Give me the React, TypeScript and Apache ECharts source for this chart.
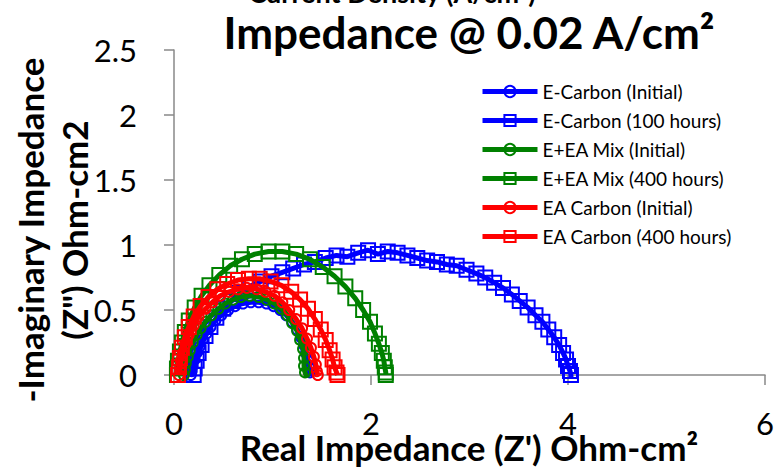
import React, { useEffect, useRef } from "react";
import * as echarts from "echarts";

const seriesNames = [
  "E-Carbon (Initial)",
  "E-Carbon (100 hours)",
  "E+EA Mix (Initial)",
  "E+EA Mix (400 hours)",
  "EA Carbon (Initial)",
  "EA Carbon (400 hours)",
];

const eCarbonInitial = [
  [0.17, 0.0], [0.18, 0.03], [0.19, 0.07], [0.21, 0.12], [0.23, 0.17], [0.26, 0.22], [0.29, 0.27],
  [0.33, 0.32], [0.37, 0.37], [0.42, 0.42], [0.48, 0.46], [0.55, 0.5], [0.62, 0.53], [0.7, 0.55],
  [0.78, 0.56], [0.86, 0.56], [0.94, 0.55], [1.01, 0.53], [1.08, 0.5], [1.14, 0.46], [1.2, 0.41],
  [1.25, 0.35], [1.29, 0.29], [1.32, 0.23], [1.34, 0.17], [1.36, 0.11], [1.37, 0.06], [1.38, 0.02],
  [1.39, -0.01],
];

const eCarbon100h = [
  [0.2, 0.0], [0.21, 0.05], [0.23, 0.11], [0.25, 0.17], [0.28, 0.23], [0.32, 0.3], [0.37, 0.37],
  [0.43, 0.44], [0.5, 0.51], [0.58, 0.57], [0.67, 0.63], [0.77, 0.68], [0.88, 0.72], [0.99, 0.76],
  [1.1, 0.79], [1.21, 0.82], [1.32, 0.85], [1.43, 0.87], [1.54, 0.9], [1.65, 0.92], [1.76, 0.91],
  [1.87, 0.94], [1.97, 0.96], [2.07, 0.93], [2.17, 0.95], [2.27, 0.94], [2.37, 0.92], [2.47, 0.9],
  [2.57, 0.88], [2.67, 0.87], [2.77, 0.85], [2.87, 0.84], [2.97, 0.81], [3.07, 0.78], [3.16, 0.75],
  [3.25, 0.71], [3.34, 0.67], [3.43, 0.62], [3.51, 0.57], [3.59, 0.52], [3.67, 0.46], [3.74, 0.41],
  [3.8, 0.35], [3.86, 0.29], [3.91, 0.23], [3.95, 0.17], [3.98, 0.12], [4.0, 0.07], [4.02, 0.03],
  [4.03, 0.0], [4.03, -0.03], [4.05, -0.04],
];

const mixInitial = [
  [0.1, 0.0], [0.11, 0.04], [0.12, 0.09], [0.14, 0.14], [0.16, 0.19], [0.19, 0.25], [0.23, 0.31],
  [0.27, 0.36], [0.32, 0.41], [0.38, 0.46], [0.45, 0.51], [0.52, 0.55], [0.6, 0.58], [0.68, 0.6],
  [0.77, 0.61], [0.86, 0.6], [0.94, 0.58], [1.02, 0.55], [1.09, 0.51], [1.15, 0.46], [1.2, 0.4],
  [1.25, 0.34], [1.28, 0.27], [1.31, 0.2], [1.32, 0.13], [1.32, 0.07], [1.33, 0.02], [1.35, -0.02],
  [1.38, -0.05], [1.42, -0.06], [1.45, -0.04],
];

const mix400h = [
  [0.03, 0.0], [0.03, 0.05], [0.04, 0.11], [0.06, 0.18], [0.08, 0.25], [0.11, 0.33], [0.15, 0.42],
  [0.21, 0.52], [0.28, 0.61], [0.36, 0.69], [0.46, 0.77], [0.57, 0.84], [0.69, 0.89], [0.82, 0.93],
  [0.96, 0.95], [1.1, 0.95], [1.24, 0.93], [1.38, 0.89], [1.51, 0.83], [1.63, 0.76], [1.74, 0.68],
  [1.84, 0.59], [1.92, 0.5], [1.99, 0.41], [2.04, 0.32], [2.08, 0.24], [2.11, 0.17], [2.13, 0.11],
  [2.14, 0.06], [2.15, 0.02], [2.15, 0.0],
];

const eaInitial = [
  [0.05, 0.0], [0.06, 0.05], [0.07, 0.11], [0.09, 0.17], [0.12, 0.24], [0.15, 0.31], [0.2, 0.38],
  [0.25, 0.45], [0.32, 0.51], [0.39, 0.56], [0.47, 0.61], [0.56, 0.64], [0.65, 0.66], [0.74, 0.67],
  [0.84, 0.66], [0.93, 0.64], [1.02, 0.61], [1.1, 0.56], [1.17, 0.5], [1.24, 0.43], [1.3, 0.36],
  [1.35, 0.28], [1.39, 0.21], [1.42, 0.14], [1.44, 0.08], [1.45, 0.03], [1.46, 0.0],
];

const ea400h = [
  [0.04, 0.0], [0.05, 0.06], [0.06, 0.13], [0.08, 0.21], [0.11, 0.29], [0.15, 0.37], [0.2, 0.45],
  [0.27, 0.53], [0.35, 0.6], [0.44, 0.66], [0.54, 0.7], [0.65, 0.73], [0.76, 0.74], [0.87, 0.74],
  [0.98, 0.72], [1.09, 0.69], [1.19, 0.64], [1.28, 0.58], [1.36, 0.51], [1.43, 0.43], [1.49, 0.35],
  [1.54, 0.27], [1.58, 0.19], [1.61, 0.12], [1.63, 0.06], [1.65, 0.02], [1.66, 0.0],
];

const seriesData = [eCarbonInitial, eCarbon100h, mixInitial, mix400h, eaInitial, ea400h];
const seriesColors = ["#0000FF", "#0000FF", "#008000", "#008000", "#FF0000", "#FF0000"];
const seriesSymbols = ["circle", "rect", "circle", "rect", "circle", "rect"];

const FONT = "Lato";

export default function App() {
  const ref = useRef<HTMLDivElement>(null);
  useEffect(() => {
    if (!ref.current) return;
    const chart = echarts.init(ref.current, null, { renderer: "svg" });
    const axisColor = "#898989";
    chart.setOption({
      animation: false,
      backgroundColor: "#ffffff",
      grid: { left: 174, right: 11, top: 50, bottom: 92 },
      xAxis: {
        type: "value",
        min: 0,
        max: 6,
        interval: 2,
        axisLine: { show: true, onZero: false, lineStyle: { color: axisColor, width: 1.5 } },
        axisTick: { show: true, length: 10, lineStyle: { color: axisColor, width: 1.5 } },
        splitLine: { show: false },
        axisLabel: { fontSize: 31, fontFamily: FONT, color: "#000", margin: 32 },
      },
      yAxis: {
        type: "value",
        min: 0,
        max: 2.5,
        interval: 0.5,
        axisLine: { show: true, onZero: false, lineStyle: { color: axisColor, width: 1.5 } },
        axisTick: { show: true, length: 10, lineStyle: { color: axisColor, width: 1.5 } },
        splitLine: { show: false },
        axisLabel: { fontSize: 31, fontFamily: FONT, color: "#000", margin: 37 },
      },
      legend: {
        orient: "vertical",
        left: 475,
        top: 77,
        itemWidth: 55,
        itemHeight: 14,
        itemGap: 10,
        lineStyle: { width: 5 },
        textStyle: { fontSize: 19, fontFamily: FONT, color: "#000" },
        data: seriesNames,
      },
      graphic: [
        {
          type: "text",
          x: 392,
          y: -8,
          style: {
            text: "Current Density (A/cm²)",
            font: `bold 27px ${FONT}`,
            fill: "#000",
            textAlign: "center",
            textVerticalAlign: "middle",
          },
        },
        {
          type: "text",
          x: 469,
          y: 32,
          style: {
            text: "Impedance @ 0.02 A/cm²",
            font: `bold 44px ${FONT}`,
            fill: "#000",
            textAlign: "center",
            textVerticalAlign: "middle",
          },
        },
        {
          type: "text",
          x: 469,
          y: 447,
          style: {
            text: "Real Impedance (Z') Ohm-cm²",
            font: `bold 35px ${FONT}`,
            fill: "#000",
            textAlign: "center",
            textVerticalAlign: "middle",
          },
        },
        {
          type: "text",
          x: 52,
          y: 230,
          rotation: Math.PI / 2,
          style: {
            text: "-Imaginary Impedance\n(Z\") Ohm-cm2",
            font: `bold 35px ${FONT}`,
            lineHeight: 44,
            fill: "#000",
            textAlign: "center",
            textVerticalAlign: "middle",
          },
        },
      ],
      series: seriesNames.map((name, i) => ({
        name,
        type: "line",
        data: seriesData[i],
        symbol: seriesSymbols[i],
        symbolSize: seriesSymbols[i] === "rect" ? 14 : 10,
        showAllSymbol: true,
        smooth: false,
        lineStyle: { color: seriesColors[i], width: 5 },
        itemStyle: { color: "rgba(0,0,0,0)", borderColor: seriesColors[i], borderWidth: 2 },
        emphasis: { disabled: true },
        z: 2 + i,
      })),
    });
    return () => chart.dispose();
  }, []);
  return (
    <div
      ref={ref}
      style={{ position: "absolute", left: 0, top: 0, width: 777, height: 467 }}
    />
  );
}
